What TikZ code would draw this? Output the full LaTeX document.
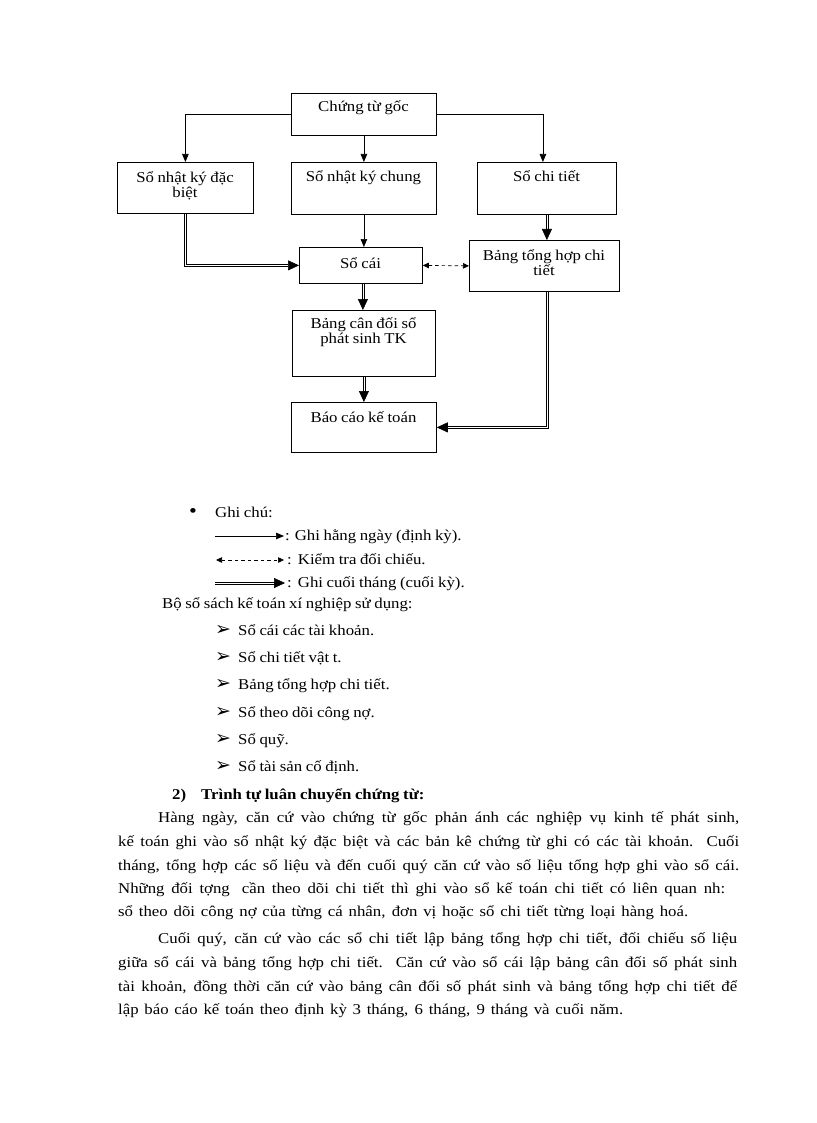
\documentclass[tikz,border=0pt]{standalone}
\usepackage{fontspec}
\setmainfont[FakeStretch=1.12,WordSpace=0.85]{Liberation Serif}
\newfontfamily\dejavu{DejaVu Sans}
\usetikzlibrary{arrows.meta,calc}
\newcommand{\twoln}[2]{\begin{tabular}[t]{@{}c@{}}#1\\#2\end{tabular}}
\newcommand{\dblstraight}[2]{%
  \coordinate (dsA) at (#1);
  \coordinate (dsB) at ($(#2)!9pt!(#1)$);
  \draw[line width=0.6pt] ($(dsA)!1.05pt!90:(dsB)$) -- ($(dsB)!1.05pt!-90:(dsA)$);
  \draw[line width=0.6pt] ($(dsA)!1.05pt!-90:(dsB)$) -- ($(dsB)!1.05pt!90:(dsA)$);
  \draw[tiponly] ($(#2)!10pt!(#1)$) -- (#2);}
\begin{document}
\begin{tikzpicture}[x=1pt,y=-1pt,
  box/.style={draw, line width=0.8pt, inner sep=0pt, anchor=north west},
  lbl/.style={font=\fontsize{15}{15}\selectfont, anchor=base, inner sep=0pt},
  txt/.style={font=\fontsize{15}{15}\selectfont, anchor=base west, inner sep=0pt},
  mk/.style={font=\dejavu\fontsize{19}{19}\selectfont, anchor=base west, inner sep=0pt},
  thinarr/.style={line width=0.7pt, -{Triangle[length=8pt,width=6.5pt]}},
  dblarr/.style={double, double distance=1.5pt, line width=0.6pt, -{Triangle[length=11pt,width=10pt]}},
  tiponly/.style={line width=0.6pt, -{Triangle[length=11pt,width=10pt]}},
  dasharr/.style={line width=0.7pt, dash pattern=on 3.5pt off 3pt, {Triangle[length=6pt,width=5.5pt]}-{Triangle[length=6pt,width=5.5pt]}},
]
\fill[white] (0,0) rectangle (816,1123);
\useasboundingbox (0,0) rectangle (816,1123);

% boxes
\node[box, minimum width=145pt, minimum height=42pt] (cg) at (291,93) {};
\node[box, minimum width=136pt, minimum height=51pt] (nkdb) at (117,162) {};
\node[box, minimum width=145pt, minimum height=52pt] (nkc) at (291,162) {};
\node[box, minimum width=139pt, minimum height=52pt] (sct) at (477,162) {};
\node[box, minimum width=123pt, minimum height=36pt] (cai) at (299,247) {};
\node[box, minimum width=150pt, minimum height=51pt] (bth) at (469,240) {};
\node[box, minimum width=143pt, minimum height=66pt] (bcd) at (292,310) {};
\node[box, minimum width=145pt, minimum height=50pt] (bckt) at (291,402) {};

% box texts
\node[lbl] (tcg) at (363.5,112) {Chứng từ gốc};
\node[lbl] (tnkdb) at (185,182.5) {\twoln{Sổ nhật ký đặc}{biệt}};
\node[lbl] (tnkc) at (363.5,182) {Sổ nhật ký chung};
\node[lbl] (tsct) at (546.5,182) {Sổ chi tiết};
\node[lbl] (tcai) at (360.5,268) {Sổ cái};
\node[lbl] (tbth) at (544,260.5) {\twoln{Bảng tổng hợp chi}{tiết}};
\node[lbl] (tbcd) at (363.5,328.5) {\twoln{Bảng cân đối sổ}{phát sinh TK}};
\node[lbl] (tbckt) at (363.5,422) {Báo cáo kế toán};

% connectors
\draw[thinarr] (cg.west) -| (nkdb.north);
\draw[thinarr] (cg.south) -- (nkc.north);
\draw[thinarr] (cg.east) -| ([xshift=-4pt]sct.north);
\draw[thinarr] (nkc.south) -- (nkc.south |- cai.north);
\draw[dblarr] (nkdb.south) |- (cai.west);
\coordinate (e1) at (sct.south |- bth.north);
\dblstraight{sct.south}{e1}
\draw[dasharr] (cai.east) -- (bth.west);
\coordinate (e2) at ([xshift=2pt]cai.south |- bcd.north);
\coordinate (s2) at ([xshift=2pt]cai.south);
\dblstraight{s2}{e2}
\coordinate (e3) at (bcd.south |- bckt.north);
\dblstraight{bcd.south}{e3}
\draw[dblarr] ([xshift=3pt]bth.south) |- (bckt.east);

% legend
\node[txt, font=\fontsize{20}{20}\selectfont] (bul) at (189,517) {•};
\node[txt] (ghichu) at (215,517.5) {Ghi chú:};
\coordinate (l1a) at (215,536); \coordinate (l1b) at (284,536);
\coordinate (l2a) at (216,560); \coordinate (l2b) at (284,560);
\coordinate (l3a) at (215,583); \coordinate (l3b) at (285,583);
\draw[thinarr] (l1a) -- (l1b);
\draw[dasharr] (l2a) -- (l2b);
\dblstraight{l3a}{l3b}
\node[txt] (lg1) at (285,540.5) {: Ghi hằng ngày (định kỳ).};
\node[txt] (lg2) at (287,564.5) {:\hspace{6pt}Kiểm tra đối chiếu.};
\node[txt] (lg3) at (287,587.5) {:\hspace{6pt}Ghi cuối tháng (cuối kỳ).};

\node[txt] (boso) at (162,608.5) {Bộ sổ sách kế toán xí nghiệp sử dụng:};

\foreach \i/\yy/\t in {1/635.5/{Sổ cái các tài khoản.},
                        2/662.5/{Sổ chi tiết vật t.},
                        3/689.5/{Bảng tổng hợp chi tiết.},
                        4/717.5/{Sổ theo dõi công nợ.},
                        5/744.5/{Sổ quỹ.},
                        6/771.5/{Sổ tài sản cố định.}}{
  \node[mk] (m\i) at (215,\yy) {➢};
  \node[txt] (it\i) at (238,\yy) {\t};
}

% heading
\node[txt, font=\fontsize{15}{15}\selectfont\bfseries] (hd) at (172,799.5) {2)\hspace{15pt}Trình tự luân chuyển chứng từ:};

% body
\node[txt] (p1a) at (158,822.5) {\makebox[581pt][s]{Hàng ngày, căn cứ vào chứng từ gốc phản ánh các nghiệp vụ kinh tế phát sinh,}};
\node[txt] (p1b) at (118,846.5) {\makebox[621pt][s]{kế toán ghi vào sổ nhật ký đặc biệt và các bản kê chứng từ ghi có các tài khoản. Cuối}};
\node[txt] (p1c) at (118,870.5) {\makebox[621pt][s]{tháng, tổng hợp các số liệu và đến cuối quý căn cứ vào số liệu tổng hợp ghi vào sổ cái.}};
\node[txt] (p1d) at (118,893.5) {\makebox[607pt][s]{Những đối tợng\hspace{12pt}cần theo dõi chi tiết thì ghi vào sổ kế toán chi tiết có liên quan nh:}};
\node[txt] (p1e) at (118,916.5) {\makebox[570pt][s]{sổ theo dõi công nợ của từng cá nhân, đơn vị hoặc sổ chi tiết từng loại hàng hoá.}};

\node[txt] (p2a) at (158,943.5) {\makebox[579pt][s]{Cuối quý, căn cứ vào các sổ chi tiết lập bảng tổng hợp chi tiết, đối chiếu số liệu}};
\node[txt] (p2b) at (118,967.5) {\makebox[619pt][s]{giữa sổ cái và bảng tổng hợp chi tiết. Căn cứ vào sổ cái lập bảng cân đối số phát sinh}};
\node[txt] (p2c) at (118,991.5) {\makebox[619pt][s]{tài khoản, đồng thời căn cứ vào bảng cân đối số phát sinh và bảng tổng hợp chi tiết để}};
\node[txt] (p2d) at (118,1014.5) {\makebox[505pt][s]{lập báo cáo kế toán theo định kỳ 3 tháng, 6 tháng, 9 tháng và cuối năm.}};
\end{tikzpicture}
\end{document}
